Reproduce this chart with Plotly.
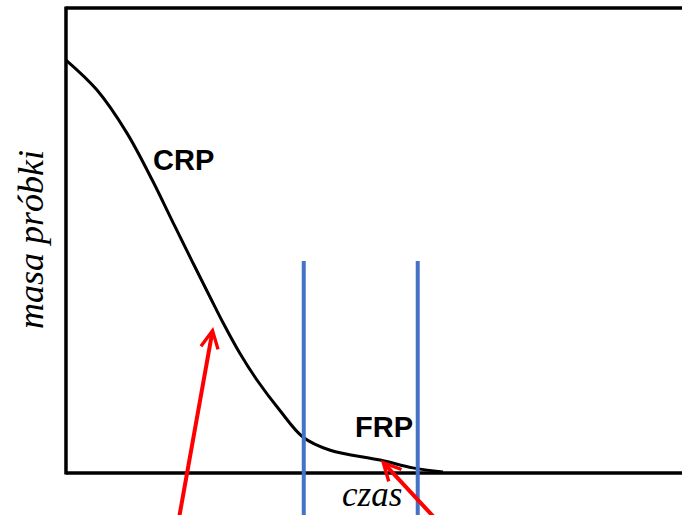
import plotly.graph_objects as go

# Curve: sample mass vs time (arbitrary units, 0-100)
time = [0, 5.0, 9.9, 14.0, 17.4, 20.6, 23.4, 25.5, 28.2, 31.0, 34.7, 38.5, 42.9, 51.0, 56.3, 61.2]
mass = [88.8, 82.4, 73.1, 63.0, 53.8, 45.2, 37.8, 32.3, 25.8, 20.0, 13.5, 7.7, 4.9, 2.8, 1.1, 0.2]

# Vertical boundaries (time)
boundaries = [38.6, 57.1]
boundary_top = 45.6

# Labels
labels = ["CRP", "FRP"]
label_x = [19.0, 51.6]
label_y = [67.3, 9.9]

# Arrows: head (x, y) and tail (x, y)
arrow_head_x = [23.9, 51.1]
arrow_head_y = [31.4, 2.8]
arrow_tail_x = [18.0, 61.7]
arrow_tail_y = [-12.3, -12.3]

x_title = "czas"
y_title = "masa próbki"

fig = go.Figure()
fig.add_trace(go.Scatter(
    x=time, y=mass, mode="lines",
    line=dict(color="black", width=3, shape="spline", smoothing=1.0),
    hoverinfo="skip", showlegend=False,
))

shapes = []
# frame
shapes.append(dict(type="line", xref="x", yref="y", x0=0, x1=0, y0=-0.3, y1=100.3,
                   line=dict(color="black", width=3.5)))
shapes.append(dict(type="line", xref="x", yref="y", x0=0, x1=102, y0=100, y1=100,
                   line=dict(color="black", width=3.5)))
shapes.append(dict(type="line", xref="x", yref="y", x0=0, x1=102, y0=0, y1=0,
                   line=dict(color="black", width=3.5)))
for b in boundaries:
    shapes.append(dict(type="line", xref="x", yref="y", x0=b, x1=b, y0=boundary_top, y1=-12,
                       line=dict(color="#4472C4", width=4)))

annotations = []
for t, lx, ly in zip(labels, label_x, label_y):
    annotations.append(dict(x=lx, y=ly, xref="x", yref="y", text="<b>" + t + "</b>", showarrow=False,
                            font=dict(family="Liberation Sans, Arial", size=29, color="black")))
for hx, hy, tx, ty in zip(arrow_head_x, arrow_head_y, arrow_tail_x, arrow_tail_y):
    annotations.append(dict(x=hx, y=hy, xref="x", yref="y", ax=tx, ay=ty, axref="x", ayref="y",
                            text="", showarrow=True, arrowhead=5, arrowsize=0.85,
                            arrowwidth=4, arrowcolor="#FF0000", standoff=0))
annotations.append(dict(x=49.6, y=-4.6, xref="x", yref="y", text="<i>" + x_title + "</i>",
                        showarrow=False,
                        font=dict(family="Liberation Serif, Times New Roman", size=35, color="black")))
annotations.append(dict(x=-5.7, y=50.3, xref="x", yref="y", text="<i>" + y_title + "</i>",
                        showarrow=False, textangle=-90,
                        font=dict(family="Liberation Serif, Times New Roman", size=36, color="black")))

fig.update_layout(
    width=682, height=515,
    margin=dict(l=0, r=0, t=0, b=0),
    paper_bgcolor="white", plot_bgcolor="white",
    xaxis=dict(range=[-10.71, 100], visible=False, fixedrange=True),
    yaxis=dict(range=[-9.03, 101.72], visible=False, fixedrange=True),
    shapes=shapes, annotations=annotations,
)

fig.write_html(
    "out.html",
    config={"displayModeBar": False},
    post_script="document.body.style.margin='0';document.body.style.overflow='hidden';",
)
